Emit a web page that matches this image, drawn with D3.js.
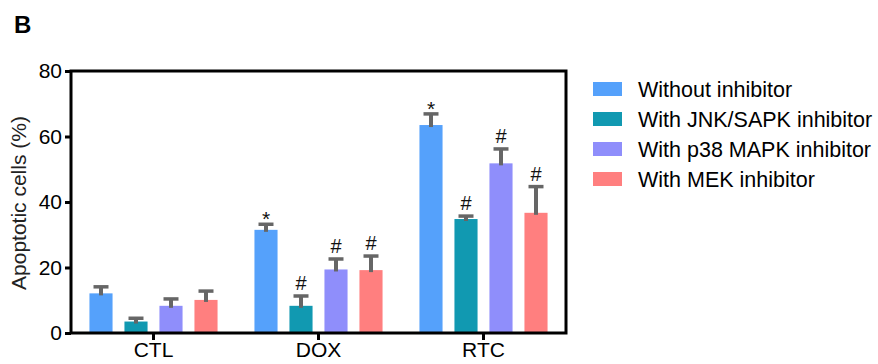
<!DOCTYPE html>
<html><head><meta charset="utf-8">
<script src="https://cdn.jsdelivr.net/npm/d3@7"></script>
<style>body{margin:0;background:#fff}svg{display:block}text{font-family:"Liberation Sans",Arial,sans-serif}</style>
</head><body><svg id="c" width="878" height="364"></svg>
<script>
const categories = ["CTL", "DOX", "RTC"];
const seriesNames = ["Without inhibitor", "With JNK/SAPK inhibitor", "With p38 MAPK inhibitor", "With MEK inhibitor"];
const seriesColors = ["#55A1FB", "#1199B1", "#8F8EFB", "#FF7F7F"];
const means = [
  [12.1, 31.5, 63.5],
  [3.5, 8.3, 34.8],
  [8.3, 19.4, 51.8],
  [10.1, 19.2, 36.7]
];
const errors = [
  [2.0, 1.7, 3.4],
  [1.0, 3.0, 0.9],
  [2.1, 3.2, 4.4],
  [2.7, 4.3, 8.0]
];
const marks = [
  ["", "*", "*"],
  ["", "#", "#"],
  ["", "#", "#"],
  ["", "#", "#"]
];
const yTicks = [0, 20, 40, 60, 80];

const svg = d3.select("#c");
const FONT = "Liberation Sans, Arial, sans-serif";
const L = 71, R = 566, T = 71, B = 333;
const x0 = d3.scaleBand().domain(categories).range([L, R]).padding(0);
const x1 = d3.scaleBand().domain(d3.range(4)).range([-70, 70]).paddingInner(0.34).paddingOuter(0.17);
const y = d3.scaleLinear().domain([0, 80]).range([B, T]);

// bars
seriesNames.forEach((s, si) => {
  categories.forEach((c, ci) => {
    const cx = x0(c) + x0.bandwidth() / 2;
    const bx = cx + x1(si);
    const bw = x1.bandwidth();
    svg.append("rect").attr("x", bx).attr("y", y(means[si][ci])).attr("width", bw)
      .attr("height", y(0) - y(means[si][ci])).attr("fill", seriesColors[si]);
    const mx = bx + bw / 2;
    const top = y(means[si][ci] + errors[si][ci]);
    svg.append("line").attr("x1", mx).attr("x2", mx).attr("y1", y(means[si][ci]) + 2).attr("y2", top)
      .attr("stroke", "#666").attr("stroke-width", 4);
    svg.append("line").attr("x1", mx - 7.5).attr("x2", mx + 7.5).attr("y1", top).attr("y2", top)
      .attr("stroke", "#666").attr("stroke-width", 3.5);
    if (marks[si][ci]) {
      const isStar = marks[si][ci] === "*";
      svg.append("text").attr("x", mx).attr("y", top - (isStar ? -2 : 6)).attr("text-anchor", "middle")
        .attr("font-size", isStar ? 21 : 20).attr("fill", "#111").text(marks[si][ci]);
    }
  });
});

// frame
svg.append("rect").attr("x", L).attr("y", T).attr("width", R - L).attr("height", B - T)
  .attr("fill", "none").attr("stroke", "#000").attr("stroke-width", 3);

// y axis
const ya = svg.append("g").attr("transform", `translate(${L},0)`)
  .call(d3.axisLeft(y).tickValues(yTicks).tickSize(6).tickPadding(3));
ya.select(".domain").remove();
ya.selectAll(".tick line").attr("stroke", "#000").attr("stroke-width", 3);
ya.selectAll(".tick text").attr("font-size", 21).attr("fill", "#000").style("font-family", FONT);

// x axis
const xa = svg.append("g").attr("transform", `translate(0,${B})`)
  .call(d3.axisBottom(x0).tickSize(7).tickPadding(2));
xa.select(".domain").remove();
xa.selectAll(".tick line").attr("stroke", "#000").attr("stroke-width", 3);
xa.selectAll(".tick text").attr("font-size", 21).attr("fill", "#000").style("font-family", FONT);

// y label
svg.append("text").attr("transform", `translate(26,${(T + B) / 2 + 1}) rotate(-90)`).attr("text-anchor", "middle")
  .attr("font-size", 21).attr("fill", "#222").text("Apoptotic cells (%)");

// panel letter
svg.append("text").attr("x", 14).attr("y", 33).attr("font-size", 24).attr("font-weight", "bold").text("B");

// legend
const lg = svg.append("g").attr("transform", "translate(593,89)");
seriesNames.forEach((s, i) => {
  lg.append("rect").attr("x", 0).attr("y", i * 30 - 7).attr("width", 29).attr("height", 14).attr("fill", seriesColors[i]);
  lg.append("text").attr("x", 45).attr("y", i * 30 + 8).attr("font-size", 21.5).attr("fill", "#000").text(s);
});
</script></body></html>
